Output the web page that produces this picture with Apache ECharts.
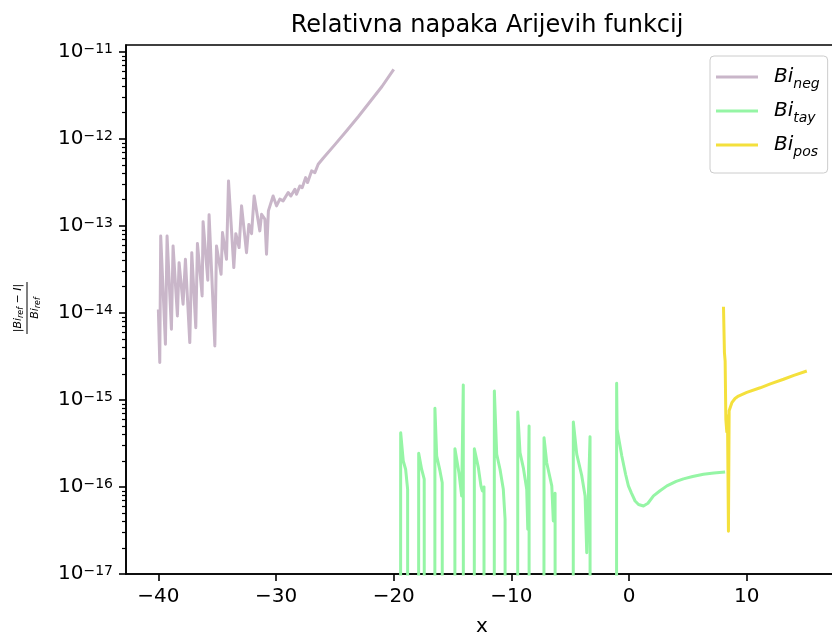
<!DOCTYPE html>
<html>
<head>
<meta charset="utf-8">
<script src="https://cdn.jsdelivr.net/npm/echarts@6/dist/echarts.min.js"></script>
<style>
html, body { margin: 0; padding: 0; background: #ffffff; }
#chart { width: 832px; height: 636px; }
</style>
</head>
<body>
<div id="chart"></div>
<script>
// Tick positions
const xTicks = [-40, -30, -20, -10, 0, 10];
const yTicks = [1e-17, 1e-16, 1e-15, 1e-14, 1e-13, 1e-12, 1e-11];
// Minor log ticks at 2..9 within each decade
const yMinorTicks = yTicks.slice(0, -1).flatMap(d => [2, 3, 4, 5, 6, 7, 8, 9].map(k => k * d));

// Bi for large negative x: relative error
const negX = [-40.00, -39.88, -39.80, -39.40, -39.26, -38.89, -38.75, -38.38, -38.24, -37.90,
  -37.70, -37.33, -37.16, -36.82, -36.68, -36.28, -36.20, -35.80, -35.69, -35.20,
  -35.06, -34.67, -34.55, -34.21, -34.04, -33.59, -33.42, -33.14, -32.93, -32.51,
  -32.31, -32.08, -31.86, -31.38, -31.23, -30.95, -30.81, -30.65, -30.25, -29.96,
  -29.68, -29.40, -28.97, -28.74, -28.40, -28.26, -27.98, -27.78, -27.49, -27.32,
  -26.98, -26.70, -26.42, -26.00, -25.00, -24.00, -23.00, -22.00, -21.00, -20.00];
const negY = [1.10e-14, 2.69e-15, 7.67e-14, 4.37e-15, 7.67e-14, 6.50e-15, 5.89e-14, 9.25e-15, 3.78e-14, 1.26e-14,
  4.14e-14, 4.56e-15, 4.93e-14, 6.78e-15, 6.27e-14, 1.57e-14, 1.12e-13, 2.38e-14, 1.34e-13, 4.18e-15,
  5.89e-14, 2.79e-14, 8.38e-14, 4.14e-14, 3.29e-13, 3.32e-14, 8.14e-14, 5.64e-14, 1.70e-13, 4.93e-14,
  1.04e-13, 8.14e-14, 2.21e-13, 8.77e-14, 1.36e-13, 1.20e-13, 4.73e-14, 1.49e-13, 2.21e-13, 1.70e-13,
  2.03e-13, 1.94e-13, 2.42e-13, 2.21e-13, 2.64e-13, 2.31e-13, 2.88e-13, 2.75e-13, 3.59e-13, 3.15e-13,
  4.29e-13, 4.10e-13, 5.12e-13, 6.00e-13, 8.60e-13, 1.24e-12, 1.81e-12, 2.69e-12, 4.00e-12, 6.30e-12];

// Taylor series: relative error (0 where the result is exact)
const tayX = [-20.00, -19.45, -19.41, -19.19, -18.99, -18.82, -18.79,
  -17.92, -17.88, -17.63, -17.41, -17.37,
  -16.54, -16.50, -16.35, -16.07, -15.88, -15.84,
  -14.84, -14.80, -14.46, -14.23, -14.09, -14.06,
  -13.19, -13.15, -12.81, -12.59, -12.47, -12.33, -12.30,
  -11.49, -11.45, -11.25, -10.97, -10.69, -10.54, -10.51,
  -9.50, -9.46, -9.27, -8.99, -8.70, -8.61, -8.50, -8.47,
  -7.27, -7.23, -7.00, -6.57, -6.44, -6.29, -6.26,
  -4.78, -4.74, -4.45, -4.02, -3.74, -3.60, -3.32, -3.29,
  -1.09, -1.06, -1.02, -0.62, -0.30, -0.06, 0.20, 0.51, 0.80, 1.22, 1.60, 2.07,
  2.60, 3.21, 4.00, 4.62, 5.40, 6.32, 7.20, 8.16];
const tayY = [0, 0, 4.21e-16, 1.99e-16, 1.60e-16, 9.4e-17, 0,
  0, 2.44e-16, 1.60e-16, 1.23e-16, 0,
  0, 8.04e-16, 2.27e-16, 1.53e-16, 1.12e-16, 0,
  0, 2.75e-16, 1.46e-16, 7.9e-17, 1.49e-15, 0,
  0, 2.75e-16, 1.67e-16, 1.03e-16, 9.0e-17, 1.0e-16, 0,
  0, 1.27e-15, 2.38e-16, 1.60e-16, 9.4e-17, 4.26e-17, 0,
  0, 7.28e-16, 2.48e-16, 1.67e-16, 9.4e-17, 3.27e-17, 5.03e-16, 0,
  0, 3.69e-16, 1.90e-16, 1.03e-16, 4.07e-17, 8.47e-17, 0,
  0, 5.59e-16, 2.38e-16, 1.34e-16, 7.9e-17, 1.76e-17, 3.79e-16, 0,
  0, 1.56e-15, 4.6e-16, 2.27e-16, 1.40e-16, 1.03e-16, 8.5e-17, 6.9e-17, 6.3e-17, 6.05e-17, 6.5e-17, 7.9e-17,
  9.0e-17, 1.03e-16, 1.16e-16, 1.24e-16, 1.32e-16, 1.40e-16, 1.45e-16, 1.49e-16];

// Bi for large positive x: relative error
const posX = [8.02, 8.10, 8.16, 8.22, 8.30, 8.36, 8.44, 8.50, 8.73, 9.00, 9.29, 10.00, 11.14, 12.00, 13.12, 14.00, 15.10];
const posY = [1.18e-14, 3.5e-15, 2.8e-15, 6.0e-16, 4.3e-16, 6.5e-16, 3.1e-17, 7.5e-16, 9.3e-16, 1.04e-15, 1.11e-15,
  1.22e-15, 1.38e-15, 1.53e-15, 1.73e-15, 1.92e-15, 2.15e-15];

const seriesNames = ['neg', 'tay', 'pos'];
const seriesColors = ['#c9b6c9', '#95f5a5', '#f4e03c'];

// Non-positive errors are pushed far below the axis, as a log plot clips them.
const FLOOR = 1e-30;
function pairs(xs, ys) {
  return xs.map((x, i) => [x, ys[i] > 0 ? ys[i] : FLOOR]);
}

const FONT = 'DejaVu Sans';
const chart = echarts.init(document.getElementById('chart'), null, { renderer: 'canvas' });

const seriesData = [pairs(negX, negY), pairs(tayX, tayY), pairs(posX, posY)];

const X_MIN = -42.75, X_MAX = 17.75;
const Y_MIN = 1e-17, Y_MAX = 1.2e-11;
const plotRect = { left: 126, top: 45, width: 712, height: 529, outerBoundsMode: 'none', containLabel: false };
const minorExp = yMinorTicks.map(Math.log10);

chart.setOption({
  animation: false,
  backgroundColor: '#ffffff',
  title: {
    text: 'Relativna napaka Arijevih funkcij',
    left: 482, top: 9, textAlign: 'center',
    textStyle: { fontFamily: FONT, fontSize: 24, fontWeight: 'normal', color: '#000' }
  },
  grid: [
    Object.assign({ show: true, borderColor: '#000', borderWidth: 1.6, backgroundColor: 'transparent' }, plotRect),
    Object.assign({ show: false }, plotRect)
  ],
  legend: {
    orient: 'vertical', left: 710, top: 56,
    padding: [11, 8, 14, 6], itemGap: 10, itemWidth: 42, itemHeight: 3, icon: 'rect',
    borderColor: '#cccccc', borderWidth: 1, borderRadius: 4,
    backgroundColor: 'rgba(255,255,255,0.8)',
    data: seriesNames,
    formatter: name => '{b|Bi}{s|' + name + '}',
    textStyle: {
      rich: {
        b: { fontFamily: FONT, fontStyle: 'italic', fontSize: 20, lineHeight: 28, color: '#000', padding: [0, 0, 0, 11] },
        s: { fontFamily: FONT, fontStyle: 'italic', fontSize: 14, color: '#000', padding: [10, 0, 0, 0], verticalAlign: 'bottom' }
      }
    }
  },
  xAxis: [{
    type: 'value', min: X_MIN, max: X_MAX, gridIndex: 0,
    name: 'x', nameLocation: 'middle', nameGap: 43,
    nameTextStyle: { fontFamily: FONT, fontSize: 20, color: '#000' },
    axisLine: { show: true, onZero: false, lineStyle: { color: '#000', width: 1.6 } },
    axisTick: { show: true, inside: false, length: 7, customValues: xTicks, lineStyle: { color: '#000', width: 1.6 } },
    axisLabel: {
      customValues: xTicks, margin: 13, color: '#000', fontFamily: FONT, fontSize: 20,
      formatter: v => String(v).replace('-', '\u2212')
    },
    splitLine: { show: false }
  }, {
    type: 'value', min: X_MIN, max: X_MAX, gridIndex: 1, show: false
  }],
  yAxis: [{
    type: 'log', logBase: 10, min: Y_MIN, max: Y_MAX, gridIndex: 0,
    axisLine: { show: true, onZero: false, lineStyle: { color: '#000', width: 1.6 } },
    axisTick: { show: true, inside: false, length: 7, customValues: yTicks, lineStyle: { color: '#000', width: 1.6 } },
    axisLabel: {
      customValues: yTicks, margin: 13, color: '#000',
      formatter: v => {
        const e = Math.round(Math.log10(v));
        return '{b|10}{s|' + (e < 0 ? '\u2212' : '') + Math.abs(e) + '}';
      },
      rich: {
        b: { fontFamily: FONT, fontSize: 20, lineHeight: 20, color: '#000', verticalAlign: 'bottom' },
        s: { fontFamily: FONT, fontSize: 14, lineHeight: 14, color: '#000', verticalAlign: 'top', padding: [0, 0, 12, 0] }
      }
    },
    splitLine: { show: false }
  }, {
    // minor ticks of the log axis, placed on a decade-exponent scale
    type: 'value', min: Math.log10(Y_MIN), max: Math.log10(Y_MAX), gridIndex: 1, position: 'left',
    axisLine: { show: false, onZero: false },
    axisTick: { show: true, inside: false, length: 4, interval: 0, customValues: minorExp, lineStyle: { color: '#000', width: 1.2 } },
    axisLabel: { show: true, interval: 0, hideOverlap: false, customValues: minorExp, formatter: () => '' },
    splitLine: { show: false }
  }],
  graphic: [{
    type: 'group', x: 27, y: 308, rotation: Math.PI / 2,
    children: [
      {
        type: 'text', x: 0, y: -2,
        style: {
          text: '{r||}{i|Bi}{u|ref}{r| \u2212 }{i|I}{r||}',
          align: 'center', verticalAlign: 'bottom',
          rich: {
            r: { fontFamily: FONT, fontSize: 11, fill: '#000' },
            i: { fontFamily: FONT, fontSize: 11, fontStyle: 'italic', fill: '#000' },
            u: { fontFamily: FONT, fontSize: 8, fontStyle: 'italic', fill: '#000', padding: [5, 0, 0, 0], verticalAlign: 'bottom' }
          }
        }
      },
      { type: 'line', shape: { x1: -26, y1: 0, x2: 26, y2: 0 }, style: { stroke: '#000', lineWidth: 1 } },
      {
        type: 'text', x: 0, y: 2,
        style: {
          text: '{i|Bi}{u|ref}',
          align: 'center', verticalAlign: 'top',
          rich: {
            i: { fontFamily: FONT, fontSize: 11, fontStyle: 'italic', fill: '#000' },
            u: { fontFamily: FONT, fontSize: 8, fontStyle: 'italic', fill: '#000', padding: [5, 0, 0, 0], verticalAlign: 'bottom' }
          }
        }
      }
    ]
  }],
  series: seriesNames.map((name, i) => ({
    name: name,
    type: 'line',
    xAxisIndex: 0,
    yAxisIndex: 0,
    data: seriesData[i],
    showSymbol: false,
    symbol: 'none',
    clip: true,
    color: seriesColors[i],
    lineStyle: { color: seriesColors[i], width: 3, join: 'round' },
    emphasis: { disabled: true }
  }))
});
</script>
</body>
</html>
